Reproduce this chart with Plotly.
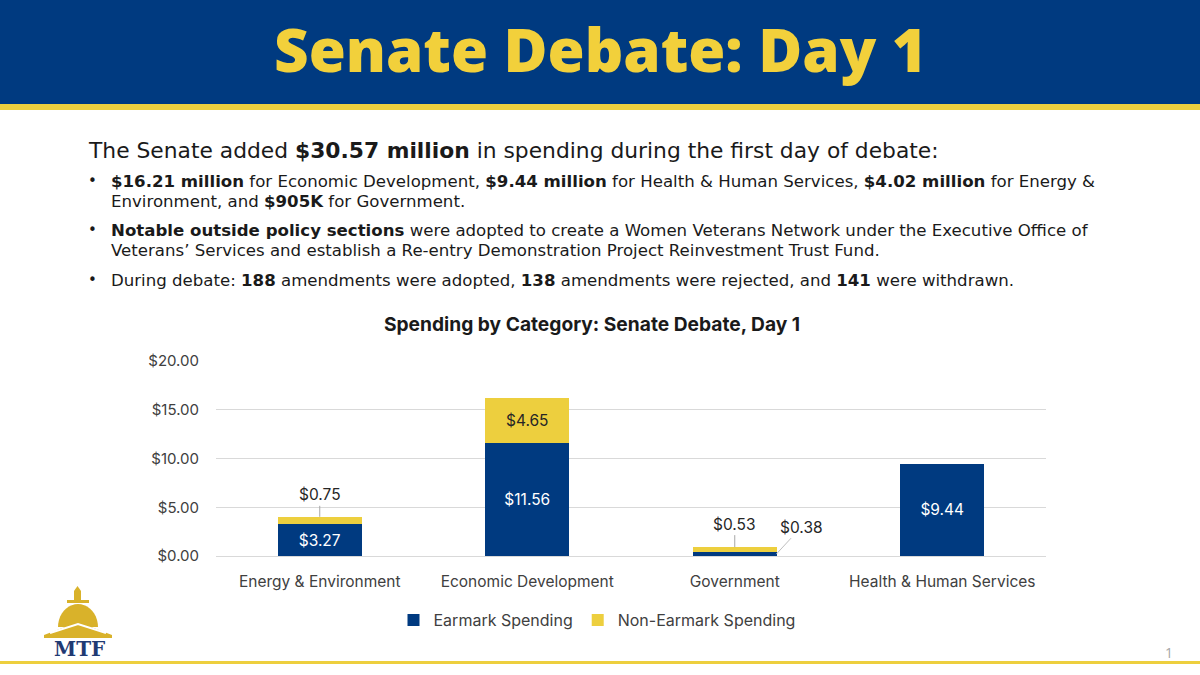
import math
import plotly.graph_objects as go

# ---------------- data ----------------
categories = ["Energy & Environment", "Economic Development", "Government", "Health & Human Services"]
earmark = [3.27, 11.56, 0.38, 9.44]
non_earmark = [0.75, 4.65, 0.53, 0.0]
series_names = ["Earmark Spending", "Non-Earmark Spending"]
y_tick_vals = [0, 5, 10, 15, 20]
y_tick_text = ["$0.00", "$5.00", "$10.00", "$15.00", "$20.00"]
earmark_label_inside = [True, True, False, True]
non_earmark_label_inside = [False, True, False, False]

# ---------------- styles ----------------
NAVY = "#003A80"
GOLD = "#EDCF3E"
TXT = "#404040"
CHART_FONT = "Inter"
BODY_FONT = "DejaVu Sans"
HEAD_FONT = "Open Sans"

W, H = 1200, 675
L, R, T, B = 216, 1046, 361, 556  # plot area in pixels


def px(x):
    return (x - L) / (R - L)


def py(y):
    return (B - y) / (B - T)


def fmt(v):
    return f"${v:.2f}"


fig = go.Figure()
fig.add_trace(go.Bar(
    x=categories, y=earmark, name=series_names[0], marker_color=NAVY,
    marker_line_width=0,
    text=[fmt(v) if s else "" for v, s in zip(earmark, earmark_label_inside)],
    textposition="inside", insidetextanchor="middle", textangle=0,
    textfont=dict(color="white", size=15.5, family=CHART_FONT),
    hoverinfo="skip",
))
fig.add_trace(go.Bar(
    x=categories, y=non_earmark, name=series_names[1], marker_color=GOLD,
    marker_line_width=0,
    text=[fmt(v) if s else "" for v, s in zip(non_earmark, non_earmark_label_inside)],
    textposition="inside", insidetextanchor="middle", textangle=0,
    textfont=dict(color="#262626", size=15.5, family=CHART_FONT),
    hoverinfo="skip",
))

annotations = []
LABEL_FONT = dict(family=CHART_FONT, size=15.5, color="#262626")
totals = [a + b for a, b in zip(earmark, non_earmark)]
annotations.append(dict(x=categories[0], y=totals[0], xref="x", yref="y",
                        text=fmt(non_earmark[0]), showarrow=True, arrowhead=0,
                        arrowwidth=1, arrowcolor="#A6A6A6", ax=0, ay=-22, standoff=0,
                        font=LABEL_FONT))
annotations.append(dict(x=categories[2], y=totals[2], xref="x", yref="y",
                        text=fmt(non_earmark[2]), showarrow=True, arrowhead=0,
                        arrowwidth=1, arrowcolor="#A6A6A6", ax=0, ay=-23, standoff=0,
                        font=LABEL_FONT))
annotations.append(dict(x=2.2, y=earmark[2] / 2, xref="x", yref="y",
                        text=fmt(earmark[2]), showarrow=True, arrowhead=0,
                        arrowwidth=1, arrowcolor="#BFBFBF", ax=25, ay=-27, standoff=0,
                        font=LABEL_FONT))

# header title
annotations.append(dict(x=px(600), y=py(49), xref="paper", yref="paper",
                        text="Senate Debate: Day 1", showarrow=False,
                        xanchor="center", yanchor="middle",
                        font=dict(family=HEAD_FONT, size=60, weight=800, color="#F2D03B")))

# body text
annotations.append(dict(x=px(86), y=py(151), xref="paper", yref="paper",
                        text="The Senate added <b>$30.57 million</b> in spending during the first day of debate:",
                        showarrow=False, xanchor="left", yanchor="middle",
                        font=dict(family=BODY_FONT, size=21.8, color="#1A1A1A")))

body_lines = [
    (181, True, "<b>$16.21 million</b> for Economic Development, <b>$9.44 million</b> for Health & Human Services, <b>$4.02 million</b> for Energy &"),
    (201, False, "Environment, and <b>$905K</b> for Government."),
    (230, True, "<b>Notable outside policy sections</b> were adopted to create a Women Veterans Network under the Executive Office of"),
    (250, False, "Veterans’ Services and establish a Re-entry Demonstration Project Reinvestment Trust Fund."),
    (280, True, "During debate: <b>188</b> amendments were adopted, <b>138</b> amendments were rejected, and <b>141</b> were withdrawn."),
]
for yline, bullet, txt in body_lines:
    if bullet:
        annotations.append(dict(x=px(86), y=py(yline), xref="paper", yref="paper",
                                text="•", showarrow=False, xanchor="left", yanchor="middle",
                                font=dict(family=BODY_FONT, size=15, color="#1A1A1A")))
    annotations.append(dict(x=px(109), y=py(yline), xref="paper", yref="paper",
                            text=txt, showarrow=False, xanchor="left", yanchor="middle",
                            font=dict(family=BODY_FONT, size=16.6, color="#1A1A1A")))

# logo text and page number
annotations.append(dict(x=px(79), y=py(649), xref="paper", yref="paper",
                        text="<b>MTF</b>", showarrow=False, xanchor="center", yanchor="middle",
                        font=dict(family="DejaVu Serif", size=20, color="#1F3A73")))
annotations.append(dict(x=px(1169), y=py(652), xref="paper", yref="paper",
                        text="1", showarrow=False, xanchor="center", yanchor="middle",
                        font=dict(family=HEAD_FONT, size=14, color="#A6A6A6")))

shapes = []
shapes.append(dict(type="rect", xref="paper", yref="paper", x0=px(0), x1=px(W),
                   y0=py(104), y1=py(0), fillcolor=NAVY, line_width=0, layer="below"))
shapes.append(dict(type="rect", xref="paper", yref="paper", x0=px(0), x1=px(W),
                   y0=py(110), y1=py(104), fillcolor=GOLD, line_width=0, layer="below"))
shapes.append(dict(type="rect", xref="paper", yref="paper", x0=px(0), x1=px(W),
                   y0=py(664), y1=py(661), fillcolor=GOLD, line_width=0, layer="below"))


def path(points, close=True):
    s = "M " + " L ".join(f"{px(x):.5f},{py(y):.5f}" for x, y in points)
    return s + (" Z" if close else "")


LOGO_GOLD = "#D9B22A"
shapes.append(dict(type="path", xref="paper", yref="paper",
                   path=path([(74, 601), (74, 591), (77.5, 586), (81, 591), (81, 601)]),
                   fillcolor=LOGO_GOLD, line_width=0, layer="below"))
shapes.append(dict(type="rect", xref="paper", yref="paper", x0=px(67), x1=px(89),
                   y0=py(603), y1=py(600), fillcolor=LOGO_GOLD, line_width=0, layer="below"))
dome_pts = []
cx, cy, rx, ry = 78, 627, 20, 23
for i in range(0, 21):
    a = math.pi * i / 20
    dome_pts.append((cx - rx * math.cos(a), cy - ry * math.sin(a)))
shapes.append(dict(type="path", xref="paper", yref="paper", path=path(dome_pts),
                   fillcolor=LOGO_GOLD, line_width=0, layer="below"))
shapes.append(dict(type="path", xref="paper", yref="paper",
                   path=path([(44, 638), (44, 635), (78, 622), (112, 635), (112, 638)]),
                   fillcolor=LOGO_GOLD, line_width=0, layer="below"))
shapes.append(dict(type="path", xref="paper", yref="paper",
                   path=path([(50, 633), (78, 624), (106, 633)], close=False),
                   line=dict(color="white", width=2), layer="below"))

fig.update_layout(
    width=W, height=H,
    margin=dict(l=L, r=W - R, t=T, b=H - B, pad=0),
    paper_bgcolor="white", plot_bgcolor="white",
    barmode="stack", bargap=0.595,
    font=dict(family=CHART_FONT, color=TXT, size=15),
    title=dict(text="<b>Spending by Category: Senate Debate, Day 1</b>",
               x=px(592), xref="paper", xanchor="center",
               y=1 - 324 / H, yref="container", yanchor="middle",
               font=dict(family=CHART_FONT, size=19.2, color="#1A1A1A")),
    xaxis=dict(type="category", showgrid=False, showline=False, ticks="",
               tickfont=dict(family=CHART_FONT, size=15.5, color=TXT),
               ticklabelstandoff=14, range=[-0.5, 3.5]),
    yaxis=dict(range=[0, 20], tickvals=y_tick_vals, ticktext=y_tick_text,
               showgrid=True, gridcolor="#D9D9D9", gridwidth=1,
               zeroline=True, zerolinecolor="#D9D9D9", zerolinewidth=1,
               showline=False, ticks="", ticklabelstandoff=16,
               tickfont=dict(family=CHART_FONT, size=15, color=TXT)),
    legend=dict(orientation="h", x=px(597), xanchor="center", y=py(620), yanchor="middle",
                font=dict(family=CHART_FONT, size=16, color=TXT), traceorder="normal"),
    annotations=annotations,
    shapes=shapes,
    showlegend=True,
)

fig.write_html("out.html")
